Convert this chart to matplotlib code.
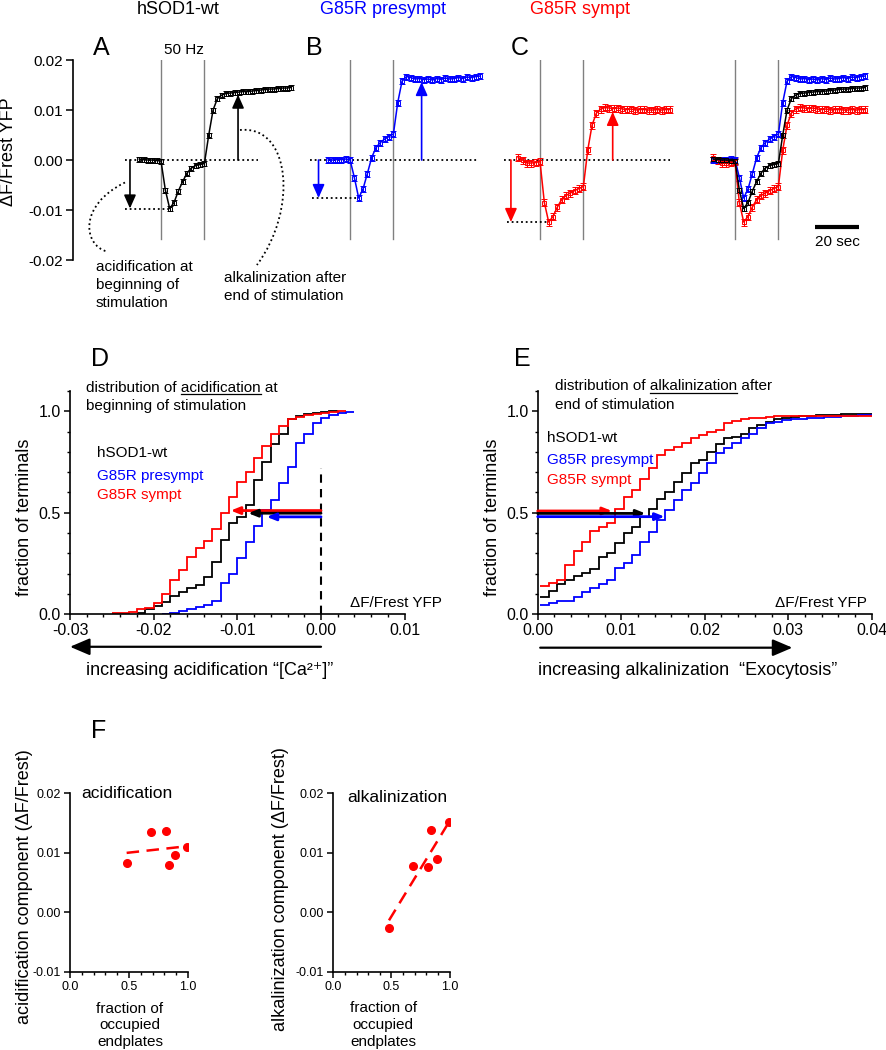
import numpy as np
import matplotlib
matplotlib.use('Agg')
import matplotlib.pyplot as plt
from matplotlib.lines import Line2D
from matplotlib.path import Path
from matplotlib.patches import PathPatch
from matplotlib.ticker import MultipleLocator, FormatStrFormatter

plt.rcParams['font.family'] = ['Liberation Sans', 'DejaVu Sans']
plt.rcParams['axes.unicode_minus'] = False

W, H = 887, 1050
BLUE = '#0000ff'
RED = '#ff0000'
GRAY = '#808080'

# ---------------- data ----------------
group_names = ['hSOD1-wt', 'G85R presympt', 'G85R sympt']
group_colors = ['k', BLUE, RED]

# mean dF/Frest traces, 50 Hz stimulation from 0 to 20 s
t_sec = np.arange(-10, 61, 2)
wt_trace = [0.0002, 0.0001, 0.0000, 0.0000, -0.0001, -0.0002, -0.0060, -0.0097, -0.0085, -0.0062,
            -0.0043, -0.0026, -0.0016, -0.0011, -0.0009, -0.0007, 0.0050, 0.0100, 0.0123, 0.0130,
            0.0133, 0.0134, 0.0135, 0.0136, 0.0137, 0.0137, 0.0138, 0.0139, 0.0140, 0.0141,
            0.0142, 0.0142, 0.0143, 0.0144, 0.0144, 0.0145]
presympt_trace = [0.0000, 0.0000, 0.0001, 0.0001, 0.0002, 0.0001, -0.0035, -0.0076, -0.0058, -0.0027,
                  0.0005, 0.0025, 0.0035, 0.0042, 0.0047, 0.0052, 0.0115, 0.0158, 0.0167, 0.0165,
                  0.0162, 0.0163, 0.0161, 0.0162, 0.0160, 0.0163, 0.0161, 0.0164, 0.0162, 0.0163,
                  0.0165, 0.0163, 0.0166, 0.0165, 0.0167, 0.0168]
sympt_trace = [0.0005, 0.0000, -0.0006, -0.0006, -0.0005, -0.0003, -0.0085, -0.0124, -0.0113, -0.0094,
               -0.0079, -0.0071, -0.0066, -0.0061, -0.0057, -0.0053, 0.0020, 0.0070, 0.0094, 0.0102,
               0.0105, 0.0104, 0.0103, 0.0104, 0.0102, 0.0101, 0.0102, 0.0100, 0.0101, 0.0101,
               0.0100, 0.0100, 0.0101, 0.0100, 0.0101, 0.0101]
trace_sem = [0.0005, 0.0006, 0.0007]
traces = [wt_trace, presympt_trace, sympt_trace]

# D: cumulative distribution of acidification (bin width 0.001)
acid_start = [-0.022, -0.019, -0.025]
acid_wt = [0.005, 0.025, 0.040, 0.060, 0.090, 0.110, 0.128, 0.145, 0.186, 0.260, 0.366, 0.450,
           0.480, 0.540, 0.660, 0.750, 0.840, 0.890, 0.960, 0.975, 0.987, 0.993, 0.997, 1.000]
acid_presympt = [0.002, 0.005, 0.018, 0.028, 0.038, 0.046, 0.067, 0.153, 0.200, 0.276, 0.358, 0.437,
                 0.514, 0.563, 0.645, 0.727, 0.842, 0.890, 0.940, 0.965, 0.980, 0.990, 0.995]
acid_sympt = [0.005, 0.005, 0.013, 0.025, 0.033, 0.054, 0.100, 0.170, 0.220, 0.280, 0.325, 0.360,
              0.420, 0.500, 0.580, 0.650, 0.700, 0.770, 0.830, 0.890, 0.930, 0.960, 0.970, 0.980,
              0.985, 0.990, 0.995, 1.000]
acid_median = [-0.0087, -0.0065, -0.0108]
acid_arrow_level = [0.498, 0.480, 0.511]

# E: cumulative distribution of alkalinization (bin width 0.001)
alk_start = 0.0003
alk_wt = [0.087, 0.115, 0.150, 0.170, 0.190, 0.205, 0.225, 0.280, 0.300, 0.350, 0.400, 0.430,
          0.480, 0.520, 0.570, 0.600, 0.650, 0.695, 0.745, 0.760, 0.800, 0.840, 0.867, 0.875,
          0.890, 0.916, 0.933, 0.949, 0.960, 0.966, 0.974, 0.977, 0.979, 0.982, 0.983, 0.984,
          0.985, 0.986, 0.987, 0.987]
alk_presympt = [0.046, 0.057, 0.066, 0.066, 0.087, 0.110, 0.128, 0.148, 0.169, 0.227, 0.255, 0.292,
                0.358, 0.407, 0.465, 0.514, 0.563, 0.612, 0.645, 0.695, 0.744, 0.793, 0.818, 0.842,
                0.867, 0.890, 0.916, 0.940, 0.949, 0.957, 0.960, 0.963, 0.966, 0.969, 0.972, 0.974,
                0.976, 0.978, 0.980, 0.982]
alk_sympt = [0.140, 0.153, 0.170, 0.243, 0.310, 0.358, 0.410, 0.430, 0.448, 0.517, 0.580, 0.612,
             0.665, 0.720, 0.785, 0.810, 0.826, 0.842, 0.867, 0.883, 0.900, 0.908, 0.944, 0.952,
             0.960, 0.966, 0.969, 0.974, 0.977, 0.977, 0.977, 0.978, 0.978, 0.978, 0.978, 0.978,
             0.979, 0.979, 0.979, 0.979]
alk_median = [0.0129, 0.0152, 0.0089]
alk_arrow_level = [0.497, 0.481, 0.509]

# F: per-animal components vs. fraction of occupied endplates
occupied = [0.48, 0.686, 0.811, 0.839, 0.89, 0.989]
acid_component = [0.0082, 0.01345, 0.0137, 0.0080, 0.0096, 0.0109]
occupied2 = [0.479, 0.688, 0.817, 0.843, 0.894, 0.992]
alk_component = [-0.0027, 0.00785, 0.0076, 0.0139, 0.0090, 0.0151]

# ---------------- figure ----------------
fig = plt.figure(figsize=(W / 100, H / 100), dpi=100)


def add_axes_px(left, top, width, height):
    return fig.add_axes([left / W, 1 - (top + height) / H, width / W, height / H])


def label(x, y, s, **kw):
    kw.setdefault('va', 'baseline')
    return fig.text(x / W, 1 - y / H, s, **kw)


def underlined(x, y, full, prefix, word, size):
    label(x, y, full, fontsize=size)
    r = fig.canvas.get_renderer()

    def width(s):
        tmp = fig.text(0, 0, s, fontsize=size)
        w = tmp.get_window_extent(r).width
        tmp.remove()
        return w
    x0 = x + width(prefix + 'x') - width('x')
    x1 = x + width(prefix + word)
    fig.add_artist(Line2D([x0 / W, x1 / W], [1 - (y + 2.5) / H] * 2, color='k', lw=0.9))


def style_axes(ax, size):
    for s in ['top', 'right']:
        ax.spines[s].set_visible(False)
    for s in ['left', 'bottom']:
        ax.spines[s].set_linewidth(1.2)
    ax.tick_params(which='major', direction='out', length=4.5, width=1.1, labelsize=size, pad=2)
    ax.tick_params(which='minor', direction='out', length=2.5, width=1.0)


def arrow(ax, tip, tail, color, lw, hl, hw, scale):
    ax.annotate('', xy=tip, xytext=tail, annotation_clip=False,
                arrowprops=dict(arrowstyle='-|>,head_length=%g,head_width=%g' % (hl, hw),
                                color=color, lw=lw, shrinkA=0, shrinkB=0, mutation_scale=scale))


def trace_plot(ax, y, sem, color):
    ax.errorbar(t_sec, y, yerr=sem, color=color, marker='s', ms=2.6, mfc='none', mew=0.7,
                lw=1.1, elinewidth=0.8, capsize=2.2, capthick=0.8, zorder=3)


# ---- top row: A, B, C, overlay ----
PX_PER_S = 2.17
onsets_px = [161, 350, 540, 735]
dots = (0, (1, 1.6))
baseline_span = [(-16.6, 44.7), (-18.5, 59.0), (-16.6, 60.0)]
lower_start = [-16.6, -17.7, -15.3]
acid_arrow_t = [-14.3, -14.5, -13.4]
alk_arrow_t = [35.5, 33.0, 33.5]

top_axes = []
for i, onset in enumerate(onsets_px):
    ax = add_axes_px(onset - 88, 60, 232, 200)
    ax.set_xlim(-88 / PX_PER_S, 144 / PX_PER_S)
    ax.set_ylim(-0.02, 0.02)
    ax.patch.set_visible(False)
    for s in ['top', 'right', 'bottom']:
        ax.spines[s].set_visible(False)
    ax.set_xticks([])
    if i == 0:
        ax.spines['left'].set_linewidth(1.2)
        ax.set_yticks([-0.02, -0.01, 0.0, 0.01, 0.02])
        ax.yaxis.set_major_formatter(FormatStrFormatter('%.2f'))
        ax.tick_params(axis='y', direction='out', length=5, width=1.1, labelsize=11, pad=2)
    else:
        ax.spines['left'].set_visible(False)
        ax.set_yticks([])
    for ts in (0, 20):
        ax.plot([ts, ts], [-0.0158, 0.02], color=GRAY, lw=1.0, zorder=1)
    top_axes.append(ax)

for i in range(3):
    ax = top_axes[i]
    tr = np.array(traces[i])
    c = group_colors[i]
    trace_plot(ax, tr, trace_sem[i], c)
    b0, b1 = baseline_span[i]
    ax.plot([b0, b1], [0, 0], color='k', lw=1.3, ls=dots, zorder=2)
    tmin = t_sec[np.argmin(tr)]
    ax.plot([lower_start[i], tmin + 0.5], [tr.min(), tr.min()], color='k', lw=1.3, ls=dots, zorder=2)
    arrow(ax, (acid_arrow_t[i], tr.min()), (acid_arrow_t[i], 0), c, 1.2, 0.9, 0.4, 9)
    top = np.interp(alk_arrow_t[i], t_sec, tr) - trace_sem[i]
    arrow(ax, (alk_arrow_t[i], top), (alk_arrow_t[i], 0), c, 1.2, 0.9, 0.4, 9)

ov = top_axes[3]
for i in [1, 2, 0]:
    trace_plot(ov, traces[i], trace_sem[i], group_colors[i])
ov.plot([37, 57], [-0.0134, -0.0134], color='k', lw=3, solid_capstyle='butt')
ov.text(47, -0.0172, '20 sec', ha='center', va='baseline', fontsize=11)

# dotted pointer curves in A
axA = top_axes[0]
for verts in ([(-16.6, -0.0045), (-38, -0.009), (-36, -0.017), (-24.9, -0.0183)],
              [(36.4, 0.006), (60, 0.007), (63, -0.010), (44.2, -0.021)]):
    p = Path(verts, [Path.MOVETO, Path.CURVE4, Path.CURVE4, Path.CURVE4])
    axA.add_patch(PathPatch(p, fill=False, lw=1.3, ls=dots, ec='k', clip_on=False))

label(178, 14, 'hSOD1-wt', fontsize=13, ha='center')
label(383, 14, 'G85R presympt', fontsize=13, ha='center', color=BLUE)
label(580, 14, 'G85R sympt', fontsize=13, ha='center', color=RED)
for lt, xx in zip('ABC', [101, 314, 520]):
    label(xx, 55, lt, fontsize=18, ha='center')
label(184, 54, '50 Hz', fontsize=11, ha='center')
label(9, 152, 'ΔF/Frest YFP', fontsize=13, rotation=90, ha='center', va='center')
for s, yy in zip(['acidification at', 'beginning of', 'stimulation'], [270.7, 289, 307.3]):
    label(96, yy, s, fontsize=11)
for s, yy in zip(['alkalinization after', 'end of stimulation'], [281.7, 300]):
    label(224, yy, s, fontsize=11)

# ---- D: acidification distribution ----
axD = add_axes_px(70, 391.0, 334.7, 223.3)
acid_curves = [acid_wt, acid_presympt, acid_sympt]
for i in [0, 1, 2]:
    edges = acid_start[i] + 0.001 * np.arange(len(acid_curves[i]) + 1)
    axD.stairs(acid_curves[i], edges, baseline=None, color=group_colors[i], lw=1.3)
axD.set_xlim(-0.03, 0.01)
axD.set_ylim(0, 1.1)
style_axes(axD, 11.5)
axD.xaxis.set_major_locator(MultipleLocator(0.01))
axD.xaxis.set_minor_locator(MultipleLocator(0.002))
axD.yaxis.set_major_locator(MultipleLocator(0.5))
axD.yaxis.set_minor_locator(MultipleLocator(0.1))
axD.xaxis.set_major_formatter(FormatStrFormatter('%.2f'))
axD.yaxis.set_major_formatter(FormatStrFormatter('%.1f'))
axD.plot([0, 0], [0, 0.72], color='k', lw=1.5, ls=(0, (4, 3)))
for i in [2, 0, 1]:
    arrow(axD, (acid_median[i], acid_arrow_level[i]), (0, acid_arrow_level[i]),
          group_colors[i], 2.0, 0.45, 0.18, 12)
arrow(axD, (-0.03, -0.16), (0.0, -0.16), 'k', 1.6, 0.75, 0.32, 16)

# ---- E: alkalinization distribution ----
axE = add_axes_px(537.7, 391.0, 334.0, 223.3)
alk_curves = [alk_wt, alk_presympt, alk_sympt]
for i in [0, 1, 2]:
    edges = alk_start + 0.001 * np.arange(len(alk_curves[i]) + 1)
    axE.stairs(alk_curves[i], edges, baseline=None, color=group_colors[i], lw=1.3)
axE.set_xlim(0, 0.04)
axE.set_ylim(0, 1.1)
style_axes(axE, 11.5)
axE.xaxis.set_major_locator(MultipleLocator(0.01))
axE.xaxis.set_minor_locator(MultipleLocator(0.002))
axE.yaxis.set_major_locator(MultipleLocator(0.5))
axE.yaxis.set_minor_locator(MultipleLocator(0.1))
axE.xaxis.set_major_formatter(FormatStrFormatter('%.2f'))
axE.yaxis.set_major_formatter(FormatStrFormatter('%.1f'))
for i in [2, 0, 1]:
    arrow(axE, (alk_median[i], alk_arrow_level[i]), (0, alk_arrow_level[i]),
          group_colors[i], 2.0, 0.45, 0.18, 12)
arrow(axE, (0.0305, -0.1645), (0.0003, -0.1645), 'k', 1.6, 0.75, 0.32, 16)

label(100, 365.7, 'D', fontsize=18, ha='center')
label(522, 365.7, 'E', fontsize=18, ha='center')
underlined(86, 391.7, 'distribution of acidification at', 'distribution of ', 'acidification', 11)
label(86, 410, 'beginning of stimulation', fontsize=11)
underlined(555, 390, 'distribution of alkalinization after', 'distribution of ', 'alkalinization', 11)
label(555, 409.3, 'end of stimulation', fontsize=11)
for name, c, yy in zip(group_names, group_colors, [456.7, 480, 499.3]):
    label(97, yy, name, fontsize=11, color=c)
for name, c, yy in zip(group_names, group_colors, [441.7, 464.3, 484.3]):
    label(546.7, yy, name, fontsize=11, color=c)
label(350, 607.3, 'ΔF/Frest YFP', fontsize=11)
label(775, 607.3, 'ΔF/Frest YFP', fontsize=11)
label(25, 517.5, 'fraction of terminals', fontsize=13, rotation=90, ha='center', va='center')
label(492.3, 517.5, 'fraction of terminals', fontsize=13, rotation=90, ha='center', va='center')
label(86, 675, 'increasing acidification “[Ca²⁺]”', fontsize=13)
label(537.7, 675, 'increasing alkalinization  “Exocytosis”', fontsize=13)

# ---- F: components vs occupied endplates ----
f_axes = [add_axes_px(70, 793.3, 118, 178.4), add_axes_px(333.3, 793.3, 116.3, 178.4)]
f_x = [occupied, occupied2]
f_y = [acid_component, alk_component]
for ax, xs, ys in zip(f_axes, f_x, f_y):
    ax.plot(xs, ys, 'o', color=RED, ms=5.5, mec=RED)
    k, b = np.polyfit(xs, ys, 1)
    xl = np.array([min(xs), max(xs)])
    ax.plot(xl, k * xl + b, color=RED, lw=1.8, ls=(0, (5, 3)))
    ax.set_xlim(0, 1.0)
    ax.set_ylim(-0.01, 0.02)
    style_axes(ax, 9)
    ax.xaxis.set_major_locator(MultipleLocator(0.5))
    ax.xaxis.set_minor_locator(MultipleLocator(0.1))
    ax.yaxis.set_major_locator(MultipleLocator(0.01))
    ax.xaxis.set_major_formatter(FormatStrFormatter('%.1f'))
    ax.yaxis.set_major_formatter(FormatStrFormatter('%.2f'))
    ax.patch.set_visible(False)

label(99, 738.3, 'F', fontsize=18, ha='center')
label(81.7, 798.3, 'acidification', fontsize=12.5)
label(347.3, 801.7, 'alkalinization', fontsize=12.5)
label(25, 887, 'acidification component (ΔF/Frest)', fontsize=13, rotation=90, ha='center', va='center')
label(280.5, 889, 'alkalinization component (ΔF/Frest)', fontsize=13, rotation=90, ha='center', va='center')
for cx, ys in [(130, [1012.7, 1029.3, 1046]), (383.3, [1011.7, 1029.3, 1046])]:
    for s, yy in zip(['fraction of', 'occupied', 'endplates'], ys):
        label(cx, yy, s, fontsize=11, ha='center')

fig.savefig('out.png', dpi=100)
